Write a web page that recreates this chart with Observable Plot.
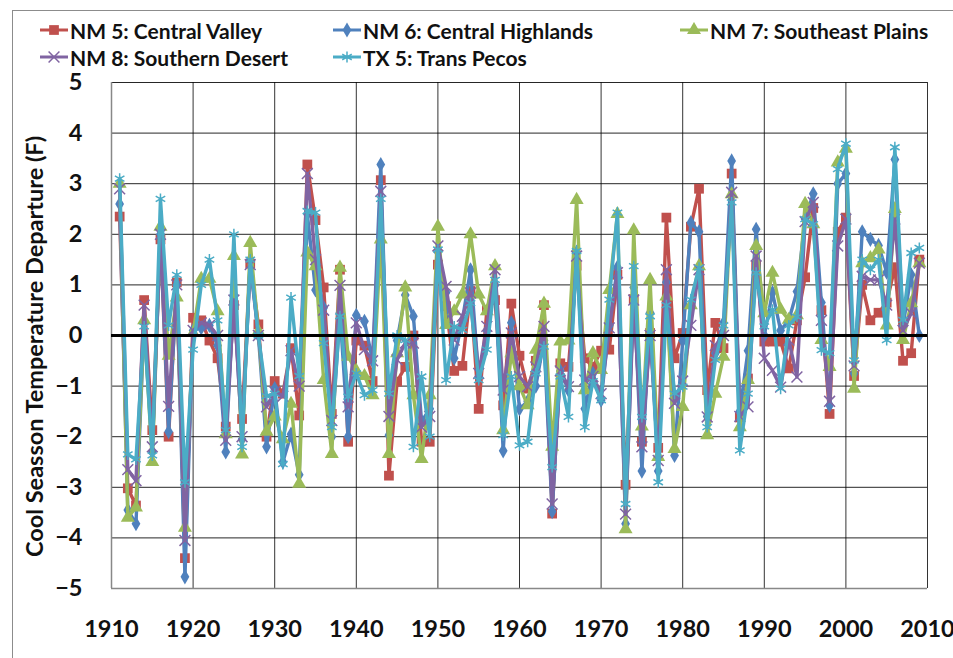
<!DOCTYPE html>
<html>
<head>
<meta charset="utf-8">
<script src="https://cdn.jsdelivr.net/npm/d3@7"></script>
<script src="https://cdn.jsdelivr.net/npm/@observablehq/plot@0.6"></script>
<style>
  body { margin: 0; background: #fff; width: 953px; height: 658px; overflow: hidden; position: relative;
         font-family: Lato, "Open Sans", sans-serif; }
  #frame { position: absolute; left: 12px; top: 10px; width: 960px; height: 700px; border: 1px solid #8c8c8c; box-sizing: border-box; }
  #legend { position: relative; height: 72px; }
  .item { position: absolute; display: flex; align-items: center; font-size: 21px; font-weight: bold; color: #111; white-space: nowrap; }
  .item svg { margin-right: 2px; }
  #chart { position: relative; }
</style>
</head>
<body>
<div id="frame"></div>
<div id="legend"></div>
<div id="chart"></div>
<script>
const startYear = 1911;
const seriesNames = ["NM 5: Central Valley", "NM 6: Central Highlands", "NM 7: Southeast Plains", "NM 8: Southern Desert", "TX 5: Trans Pecos"];
const seriesColors = ["#C0504D", "#4F81BD", "#9BBB59", "#8064A2", "#4BACC6"];
const seriesSymbols = ["square", "diamond", "triangle", "times", "asterisk"];
const xTicks = [1910, 1920, 1930, 1940, 1950, 1960, 1970, 1980, 1990, 2000, 2010];
const yTicks = [-5, -4, -3, -2, -1, 0, 1, 2, 3, 4, 5];
const yLabel = "Cool Seasson Temperature Departure (F)";

const nm5 = [2.35,-3.02,-3.36,0.7,-1.87,1.9,-2.0,1.05,-4.4,0.35,
 0.3,-0.1,-0.45,-1.8,0.6,-1.65,1.42,0.22,-2.0,-0.9,
 -1.15,-0.25,-1.58,3.38,2.28,0.95,-1.55,1.3,-2.1,-0.1,
 -0.2,-0.9,3.07,-2.77,-0.91,-0.62,0.0,-2.1,-2.1,1.4,
 0.58,-0.7,-0.6,0.88,-1.45,0.5,0.7,-1.38,0.63,-0.4,
 -1.05,-0.5,0.6,-3.52,-0.55,-0.62,1.38,-0.45,-0.62,-0.3,
 -0.28,1.2,-2.95,0.72,-2.1,0.05,-2.22,2.33,-0.45,0.05,
 2.15,2.9,-1.08,0.25,-0.25,3.2,-1.62,-0.85,1.38,-0.12,
 -0.12,-0.12,-0.65,0.3,1.15,2.52,0.5,-1.55,2.05,2.33,
 -0.8,1.0,0.3,0.45,0.65,1.35,-0.5,-0.35,1.5];
const nm6 = [2.6,-3.45,-3.72,0.25,-2.3,2.0,-1.9,1.0,-4.77,0.1,
 0.15,0.2,-0.2,-2.3,0.8,-2.05,1.5,0.0,-2.2,-1.05,
 -2.5,-1.95,-2.75,2.4,0.9,0.55,-2.0,0.45,-2.0,0.4,
 0.28,-0.5,3.38,-1.97,-0.1,0.8,0.38,-1.7,-1.45,1.65,
 0.85,-0.45,0.3,1.3,-0.82,0.1,1.0,-2.28,0.25,-1.45,
 -1.3,-1.0,-0.1,-3.48,-0.7,-1.08,1.65,-1.45,-0.75,-1.28,
 0.2,1.35,-3.72,0.95,-2.68,0.45,-2.68,1.05,-2.37,-0.1,
 2.23,2.05,-1.6,-0.35,0.25,3.45,-1.5,-0.3,2.1,0.0,
 0.85,0.1,0.3,0.87,2.3,2.8,0.65,-1.38,3.0,3.2,
 -0.75,2.05,1.9,1.78,1.25,3.48,0.2,1.2,0.0];
const nm7 = [3.0,-3.6,-3.4,0.3,-2.5,2.15,-0.4,0.75,-3.8,0.05,
 1.12,1.12,0.48,-1.95,1.57,-2.35,1.83,0.08,-1.9,-1.6,
 -2.05,-1.35,-2.93,1.64,1.37,-0.88,-2.34,1.34,-0.42,-0.7,
 -0.8,-1.18,1.9,-2.34,-0.35,0.95,-1.18,-2.44,-1.18,2.15,
 0.21,0.48,0.81,2.0,0.81,0.48,1.37,-1.87,-0.35,-1.0,
 -1.38,-0.28,0.63,-2.2,-0.12,-0.1,2.68,-1.08,-0.35,-0.68,
 0.9,2.4,-3.83,2.08,-1.8,1.1,-2.4,0.77,-2.24,-1.41,
 0.6,1.37,-1.97,-1.15,-0.42,2.79,-1.81,-0.88,1.77,0.44,
 1.24,0.51,0.31,0.4,2.6,2.2,-0.09,-0.62,3.42,3.69,
 -1.05,1.43,1.53,1.7,0.2,2.5,-0.09,0.64,1.43];
const nm8 = [2.9,-2.65,-2.87,0.6,-2.2,2.0,-1.4,1.0,-4.05,0.1,
 0.25,0.2,0.0,-2.07,0.7,-2.0,1.4,0.0,-1.41,-1.11,
 -1.2,-0.3,-1.0,3.2,1.5,0.5,-1.68,0.99,-1.41,0.25,
 -0.28,-0.5,2.85,-1.6,-0.48,-0.15,-0.15,-1.81,-1.6,1.77,
 0.97,-0.09,0.38,0.84,-0.75,0.18,1.3,-1.08,0.05,-0.81,
 -1.01,-0.62,0.18,-3.33,-0.7,-1.01,1.57,-0.88,-0.81,-1.15,
 0.15,1.24,-3.53,0.7,-2.2,0.0,-2.47,1.3,-1.34,-0.9,
 0.2,1.3,-1.61,-0.2,0.0,2.83,-1.6,-1.41,1.57,-0.45,
 -0.69,-1.02,-0.09,-0.82,2.25,2.63,0.3,-1.3,1.77,2.3,
 -0.6,1.17,1.1,1.1,0.6,2.3,0.1,0.44,1.43];
const tx5 = [3.1,-2.35,-2.45,0.18,-2.37,2.7,0.2,1.2,-2.9,-0.28,
 1.0,1.5,0.3,-1.87,2.0,-2.2,1.5,0.0,-1.2,-1.15,
 -2.54,0.75,-0.8,2.46,2.43,-0.15,-1.81,0.38,-1.21,-0.75,
 -1.18,-1.08,2.7,-1.15,0.0,-0.09,-2.2,-0.81,-2.0,1.7,
 -0.88,0.18,0.11,0.64,-0.88,-0.28,1.1,-1.97,-0.81,-2.17,
 -2.1,-0.75,-0.22,-2.6,-0.81,-1.61,1.67,-1.81,-0.9,-1.28,
 0.71,2.43,-3.33,1.37,-1.61,0.38,-2.9,0.6,-1.15,-1.01,
 0.71,1.34,-1.81,-0.48,0.2,2.63,-2.27,-1.15,1.24,0.18,
 0.51,-1.05,0.2,0.37,2.3,2.2,-0.29,-0.35,3.29,3.79,
 -0.49,1.5,1.3,1.5,-0.09,3.72,0.31,1.63,1.73];

const seriesValues = [nm5, nm6, nm7, nm8, tx5];
const symbolSizes = [5.5, 4.6, 5.2, 5, 5.2];

// legend
const legend = document.getElementById("legend");
const legendPos = [[40, 30], [333, 30], [680, 30], [40, 57], [333, 57]];
const d3sym = {square: d3.symbolSquare, diamond: d3.symbolDiamond, triangle: d3.symbolTriangle, times: d3.symbolTimes, asterisk: d3.symbolAsterisk};
seriesNames.forEach((name, i) => {
  const div = document.createElement("div");
  div.className = "item";
  div.style.left = legendPos[i][0] + "px";
  div.style.top = (legendPos[i][1] - 13) + "px";
  div.style.height = "26px";
  const stroked = seriesSymbols[i] === "times" || seriesSymbols[i] === "asterisk";
  const path = d3.symbol(d3sym[seriesSymbols[i]], Math.PI * symbolSizes[i] * symbolSizes[i])();
  div.innerHTML = `<svg width="28" height="16" viewBox="0 0 28 16"><line x1="0" x2="28" y1="8" y2="8" stroke="${seriesColors[i]}" stroke-width="3"/><path transform="translate(14,8)" d="${path}" fill="${stroked ? "none" : seriesColors[i]}" stroke="${seriesColors[i]}" stroke-width="${stroked ? 1.5 : 0}"/></svg><span>${name}</span>`;
  legend.appendChild(div);
});

// data
const rows = [];
seriesValues.forEach((vals, s) => {
  vals.forEach((v, j) => rows.push({series: seriesNames[s], year: startYear + j, value: v}));
});

const marks = [
  Plot.ruleY(yTicks.filter(d => d !== 0 && d !== -5), {stroke: "#000", strokeWidth: 1, strokeOpacity: 0.85}),
  Plot.ruleX(xTicks.filter(d => d !== 1910), {stroke: "#000", strokeWidth: 1, strokeOpacity: 0.8}),
  Plot.ruleX([1910], {stroke: "#888", strokeWidth: 1.5}),
  Plot.ruleY([-5], {stroke: "#888", strokeWidth: 1.5}),
];
seriesNames.forEach((name, s) => {
  const data = rows.filter(r => r.series === name);
  const stroked = seriesSymbols[s] === "times" || seriesSymbols[s] === "asterisk";
  marks.push(Plot.line(data, {x: "year", y: "value", stroke: seriesColors[s], strokeWidth: 3.4}));
  marks.push(Plot.dot(data, {x: "year", y: "value", symbol: () => seriesSymbols[s], r: symbolSizes[s],
    fill: stroked ? "none" : seriesColors[s], stroke: stroked ? seriesColors[s] : "none", strokeWidth: 1.5}));
});
marks.push(Plot.ruleY([0], {stroke: "#000", strokeWidth: 3}));
marks.push(Plot.axisX({ticks: xTicks, tickSize: 0, tickPadding: 32, tickFormat: d => String(d)}));
marks.push(Plot.axisY({ticks: yTicks, tickSize: 0, tickPadding: 29, label: null}));
marks.push(Plot.text([yLabel], {frameAnchor: "left", text: d => d, rotate: -90, dx: -76, dy: 11, fontSize: 23.5, fontWeight: "bold", textAnchor: "middle"}));

const chart = Plot.plot({
  width: 953,
  height: 586,
  marginTop: 10,
  marginBottom: 70,
  marginLeft: 111,
  marginRight: 26,
  x: {domain: [1910, 2010], label: null},
  y: {domain: [-5, 5], label: null},
  style: {fontFamily: 'Lato, "Open Sans", sans-serif', fontSize: "23.5px", fontWeight: "bold", color: "#111", background: "transparent", overflow: "visible"},
  marks
});
document.getElementById("chart").appendChild(chart);
</script>
</body>
</html>
